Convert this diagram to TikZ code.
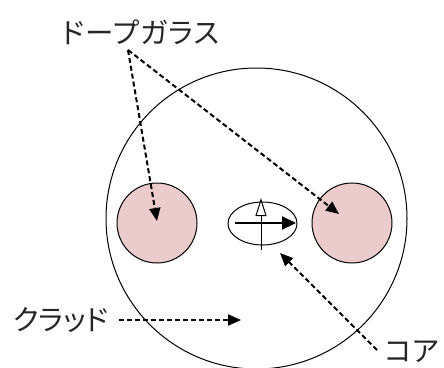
\documentclass[tikz,border=0pt]{standalone}
\usepackage{fontspec}
\setmainfont{Noto Sans CJK JP}
\newfontfamily\palfont[RawFeature=+palt]{Noto Sans CJK JP}
\newfontfamily\palwide[RawFeature=+palt,LetterSpace=4]{Noto Sans CJK JP}
\usetikzlibrary{arrows.meta,shapes.geometric}
\definecolor{dopepink}{RGB}{235,203,203}
\begin{document}
\begin{tikzpicture}[x=1pt,y=-1pt,
  lbl/.style={font=\palfont\fontsize{28.5}{28.5}\selectfont, inner sep=0pt, text=black!85},
  lblw/.style={font=\palwide\fontsize{28.5}{28.5}\selectfont, inner sep=0pt, text=black!85},
  darrow/.style={draw=black, line width=2pt, dash pattern=on 5pt off 3pt, -{Triangle[length=13pt,width=11pt]}},
  dope/.style={circle, draw=black, line width=1pt, fill=dopepink, minimum size=80pt, inner sep=0pt}]
\useasboundingbox (0,0) rectangle (444,367);
\node[circle, draw=black, line width=1pt, minimum size=301pt, inner sep=0pt] (clad) at (256.5,218.5) {};
\node[dope] (dl) at (157,223) {};
\node[dope] (dr) at (352,223) {};
\node[ellipse, draw=black, line width=1pt, minimum width=69pt, minimum height=43pt, inner sep=0pt] (core) at (262.5,223.5) {};
\coordinate (vb) at (261,250);
\coordinate (vt) at (261,198);
\draw[line width=1pt, -{Triangle[open, length=18pt, width=11pt, line width=1pt]}] (vb) -- (vt);
\coordinate (hs) at (235,223);
\coordinate (he) at (296,223);
\draw[line width=2.2pt, -{Triangle[length=14pt, width=13pt]}] (hs) -- (he);
\node[lblw] (dg) at (141,32) {ドープガラス};
\coordinate (dgs) at (128,50);
\coordinate (tl) at (157,221);
\coordinate (tr) at (339,214);
\draw[darrow] (dgs) -- (tl);
\draw[darrow] (dgs) -- (tr);
\node[lbl] (cl) at (61,320) {クラッド};
\coordinate (cle) at (241,320);
\draw[darrow] (119,320) -- (cle);
\node[lbl] (ca) at (412,352) {コア};
\coordinate (cat) at (280,253);
\draw[darrow] (377,350) -- (cat);
\end{tikzpicture}
\end{document}
